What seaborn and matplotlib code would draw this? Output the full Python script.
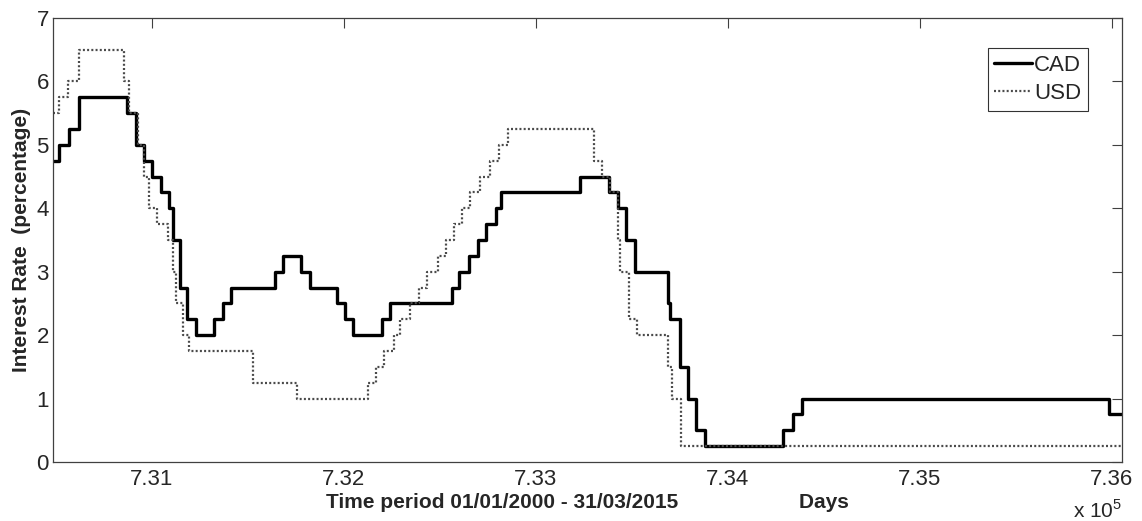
import matplotlib
matplotlib.use("Agg")
import matplotlib.pyplot as plt
import seaborn as sns
import pandas as pd
import numpy as np
from matplotlib.ticker import FuncFormatter, FixedLocator

# ---- data (step changes) ----
cad_dates = ["2000-01-01", "2000-02-03", "2000-03-22", "2000-05-17", "2001-01-23",
             "2001-03-06", "2001-04-17", "2001-05-29", "2001-07-17", "2001-08-28",
             "2001-09-17", "2001-10-23", "2001-11-27", "2002-01-15", "2002-04-16",
             "2002-06-04", "2002-07-16", "2003-03-04", "2003-04-15", "2003-07-15",
             "2003-09-03", "2004-01-20", "2004-03-02", "2004-04-13", "2004-09-08",
             "2004-10-19", "2005-09-07", "2005-10-18", "2005-12-06", "2006-01-24",
             "2006-03-07", "2006-04-25", "2006-05-24", "2007-07-10", "2007-12-04",
             "2008-01-22", "2008-03-04", "2008-04-22", "2008-10-08", "2008-10-21",
             "2008-12-09", "2009-01-20", "2009-03-03", "2009-04-21", "2010-06-01",
             "2010-07-20", "2010-09-08", "2015-01-21", "2015-03-31"]
cad_rates = [4.75, 5.00, 5.25, 5.75, 5.50,
             5.00, 4.75, 4.50, 4.25, 4.00,
             3.50, 2.75, 2.25, 2.00, 2.25,
             2.50, 2.75, 3.00, 3.25, 3.00,
             2.75, 2.50, 2.25, 2.00, 2.25,
             2.50, 2.75, 3.00, 3.25, 3.50,
             3.75, 4.00, 4.25, 4.50, 4.25,
             4.00, 3.50, 3.00, 2.50, 2.25,
             1.50, 1.00, 0.50, 0.25, 0.50,
             0.75, 1.00, 0.75, 0.75]

usd_dates = ["2000-01-01", "2000-02-02", "2000-03-21", "2000-05-16", "2001-01-03",
             "2001-01-31", "2001-03-20", "2001-04-18", "2001-05-15", "2001-06-27",
             "2001-08-21", "2001-09-17", "2001-10-02", "2001-11-06", "2001-12-11",
             "2002-11-06", "2003-06-25", "2004-06-30", "2004-08-10", "2004-09-21",
             "2004-11-10", "2004-12-14", "2005-02-02", "2005-03-22", "2005-05-03",
             "2005-06-30", "2005-08-09", "2005-09-20", "2005-11-01", "2005-12-13",
             "2006-01-31", "2006-03-28", "2006-05-10", "2006-06-29", "2007-09-18",
             "2007-10-31", "2007-12-11", "2008-01-22", "2008-01-30", "2008-03-18",
             "2008-04-30", "2008-10-08", "2008-10-29", "2008-12-16", "2015-03-31"]
usd_rates = [5.50, 5.75, 6.00, 6.50, 6.00,
             5.50, 5.00, 4.50, 4.00, 3.75,
             3.50, 3.00, 2.50, 2.00, 1.75,
             1.25, 1.00, 1.25, 1.50, 1.75,
             2.00, 2.25, 2.50, 2.75, 3.00,
             3.25, 3.50, 3.75, 4.00, 4.25,
             4.50, 4.75, 5.00, 5.25, 4.75,
             4.50, 4.25, 3.50, 3.00, 2.25,
             2.00, 1.50, 1.00, 0.25, 0.25]

x_ticks = [731000, 732000, 733000, 734000, 735000, 736000]
y_ticks = [0, 1, 2, 3, 4, 5, 6, 7]
x_start, x_end = "2000-01-01", "2015-03-31"


def datenum(s):
    return pd.Timestamp(s).toordinal() + 366


df = pd.concat([
    pd.DataFrame({"day": [datenum(d) for d in cad_dates], "rate": cad_rates, "cur": "CAD"}),
    pd.DataFrame({"day": [datenum(d) for d in usd_dates], "rate": usd_rates, "cur": "USD"}),
], ignore_index=True)

sns.set_style("white")
plt.rcParams["font.family"] = ["Liberation Sans", "DejaVu Sans"]
plt.rcParams["mathtext.fontset"] = "custom"
plt.rcParams["mathtext.rm"] = "Liberation Sans"

fig = plt.figure(figsize=(11.42, 5.21), dpi=100)
W, H = 1142, 521
ax = fig.add_axes([53 / W, 1 - 462 / H, (1122 - 53) / W, (462 - 18) / H])

sns.lineplot(data=df[df.cur == "CAD"], x="day", y="rate", ax=ax, color="black",
             linewidth=2.4, drawstyle="steps-post", label="CAD", estimator=None)
sns.lineplot(data=df[df.cur == "USD"], x="day", y="rate", ax=ax, color="#4a4a4a",
             linewidth=1.6, linestyle=(0, (0.9, 1.0)), drawstyle="steps-post",
             label="USD", estimator=None)

ax.set_xlim(datenum(x_start), datenum(x_end))
ax.set_ylim(0, 7)
ax.xaxis.set_major_locator(FixedLocator(x_ticks))
ax.yaxis.set_major_locator(FixedLocator(y_ticks))
ax.xaxis.set_major_formatter(FuncFormatter(lambda v, p: f"{v / 1e5:.2f}"))
ax.yaxis.set_major_formatter(FuncFormatter(lambda v, p: f"{v:.0f}"))

spine_c = "#404040"
for s in ax.spines.values():
    s.set_color(spine_c)
    s.set_linewidth(0.9)
ax.tick_params(direction="in", length=7.2, width=0.8, color=spine_c,
               top=True, right=True, labelsize=16, labelcolor="#262626")
ax.tick_params(axis="x", pad=5)
ax.tick_params(axis="y", pad=3)

ax.set_xlabel("Time period 01/01/2000 - 31/03/2015" + " " * 21 + "Days",
              fontsize=15, fontweight="bold", labelpad=2)
ax.set_ylabel("Interest Rate  (percentage)", fontsize=15, fontweight="bold", labelpad=4)

leg = ax.legend(loc="upper right", bbox_to_anchor=(1088 / W, 1 - 48 / H),
                bbox_transform=fig.transFigure, fontsize=16, frameon=True,
                fancybox=False, handlelength=1.7, handletextpad=0.1,
                borderpad=0.3, labelspacing=0.33, borderaxespad=0)
leg.get_frame().set_edgecolor("black")
leg.get_frame().set_linewidth(0.8)

fig.text(1073 / W, 3 / H, "x 10$^5$", fontsize=15, color="#262626", va="baseline")

fig.savefig("out.png", dpi=100)
